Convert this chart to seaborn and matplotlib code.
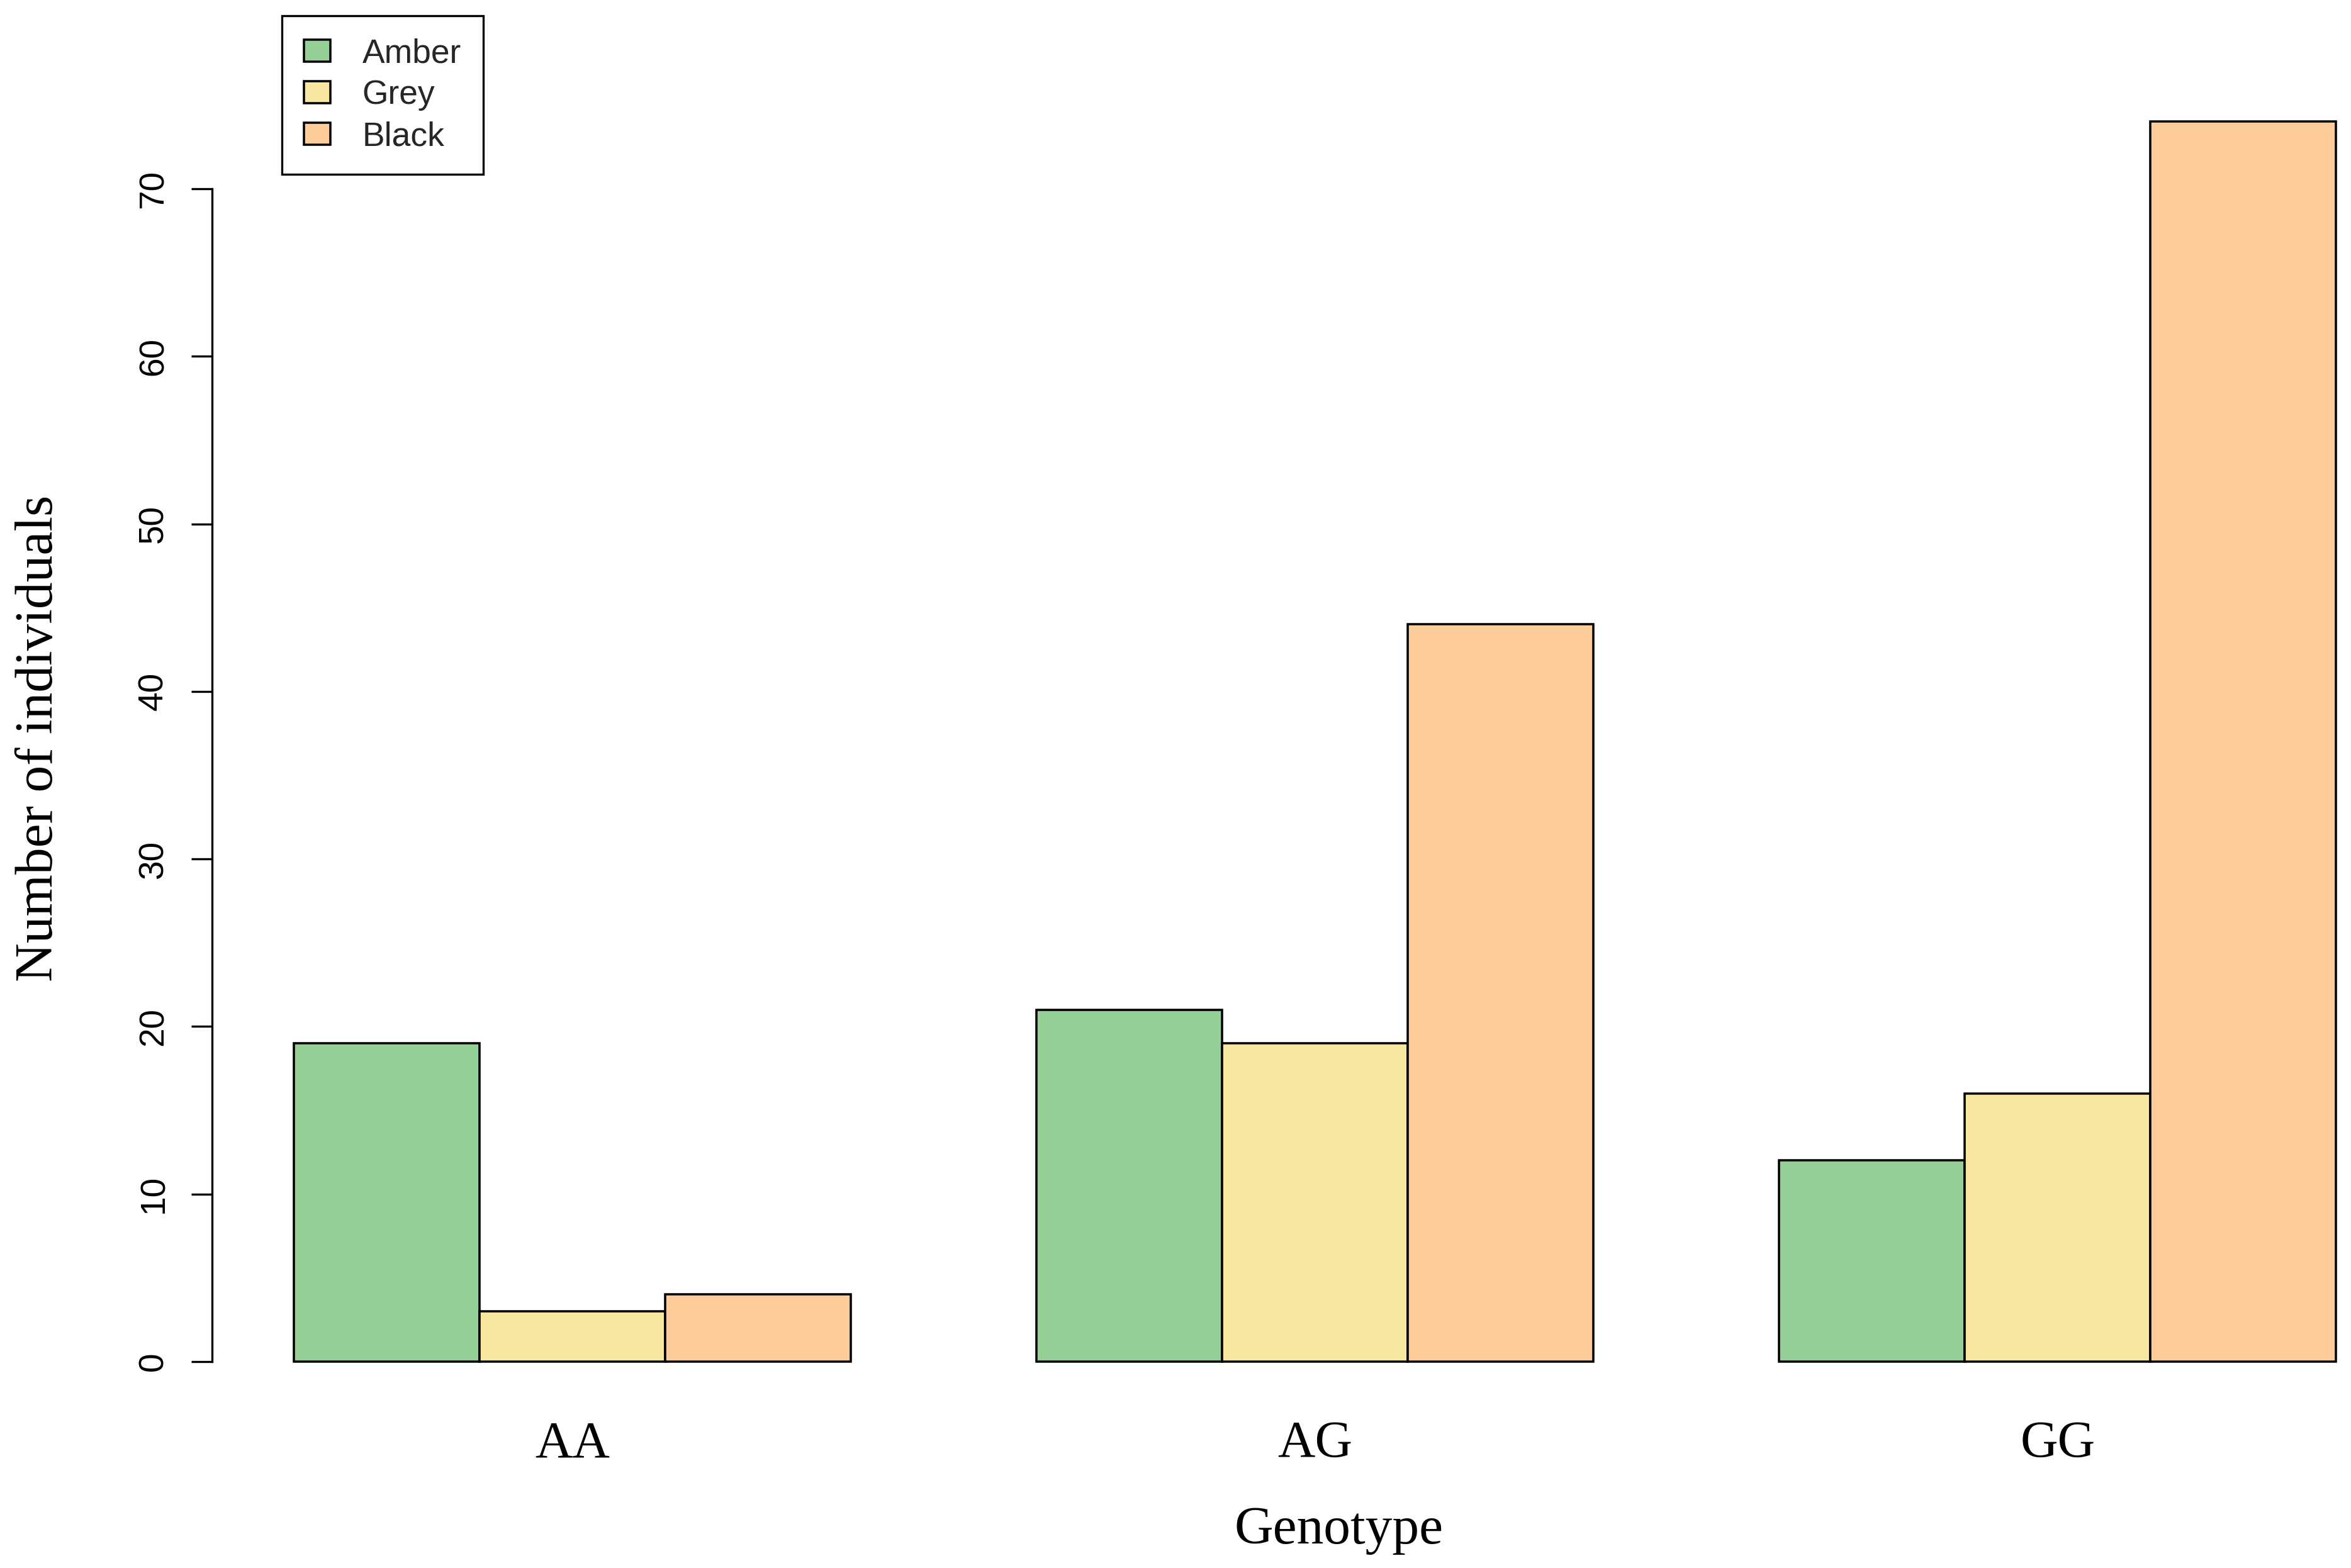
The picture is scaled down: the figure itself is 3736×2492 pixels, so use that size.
import matplotlib
matplotlib.use("Agg")
import matplotlib.pyplot as plt
import pandas as pd
import seaborn as sns
from matplotlib.patches import Patch

# Counts per genotype, one list per colour phenotype
genotypes = ["AA", "AG", "GG"]
phenotypes = ["Amber", "Grey", "Black"]
amber = [19, 21, 12]
grey = [3, 19, 16]
black = [4, 44, 74]
bar_colors = ["#94D096", "#F7E7A1", "#FECC99"]
y_ticks = [0, 10, 20, 30, 40, 50, 60, 70]

df = pd.DataFrame({
    "Genotype": genotypes * 3,
    "Phenotype": [p for p in phenotypes for _ in genotypes],
    "Count": amber + grey + black,
})

sns.set_theme(style="white")
plt.rcParams["font.family"] = ["Liberation Sans", "DejaVu Sans"]
SERIF = ["Liberation Serif", "DejaVu Serif"]

W, H = 3736, 2492
fig = plt.figure(figsize=(W / 300, H / 300), dpi=300)
ax = fig.add_axes([337 / W, 0.100, (W - 337) / W, 0.854])

sns.barplot(
    data=df, x="Genotype", y="Count", hue="Phenotype",
    order=genotypes, hue_order=phenotypes, palette=bar_colors,
    width=0.75, saturation=1, edgecolor="black", linewidth=0.85,
    errorbar=None, legend=False, ax=ax,
)

ax.set_xlim(-0.485, 2.395)
ax.set_ylim(-2.96, 76.96)

for side in ["top", "right", "bottom"]:
    ax.spines[side].set_visible(False)
ax.spines["left"].set_bounds(0, 70)
ax.spines["left"].set_linewidth(0.8)
ax.spines["left"].set_color("black")

ax.set_yticks(y_ticks)
ax.tick_params(axis="y", left=True, length=7.9, width=0.8, color="black",
               direction="out", pad=8, labelsize=13.2, labelcolor="black")
for lbl in ax.get_yticklabels():
    lbl.set_rotation(90)
    lbl.set_va("center")

ax.tick_params(axis="x", length=0, pad=3.6, labelcolor="black")
for lbl in ax.get_xticklabels():
    lbl.set_fontfamily(SERIF)
    lbl.set_fontsize(19.8)

ax.set_xlabel("Genotype", fontfamily=SERIF, fontsize=20.5, color="black")
ax.xaxis.label.set_va("baseline")
ax.xaxis.set_label_coords(0.5269, -0.0990)

ax.set_ylabel("Number of individuals", fontfamily=SERIF, fontsize=20.5, color="black")
ax.yaxis.label.set_va("baseline")
ax.yaxis.set_label_coords(-0.0747, 0.5027)

handles = [Patch(facecolor=c, edgecolor="black", linewidth=0.85) for c in bar_colors]
leg = ax.legend(
    handles=handles, labels=phenotypes, loc="upper left",
    bbox_to_anchor=(448 / W, 1 - 25 / H), bbox_transform=fig.transFigure,
    fontsize=12.8, frameon=True, fancybox=False, framealpha=1,
    edgecolor="black", borderpad=0.66, handlelength=0.78, handleheight=0.64,
    handletextpad=0.95, labelspacing=0.3, borderaxespad=0,
)
leg.get_frame().set_linewidth(0.8)

fig.savefig("out.png", dpi=300)
